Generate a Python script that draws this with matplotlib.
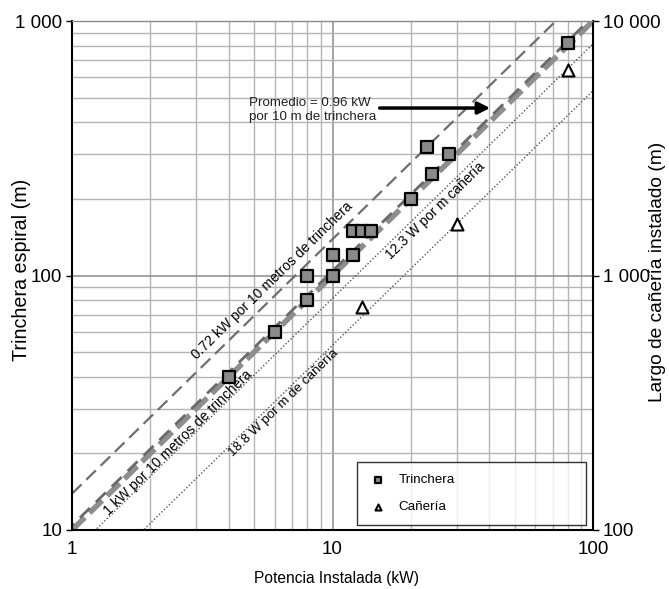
import numpy as np
import matplotlib
matplotlib.use("Agg")
import matplotlib.pyplot as plt
from matplotlib.ticker import FixedLocator, NullFormatter, LogLocator

plt.rcParams['font.family'] = ['Liberation Sans', 'DejaVu Sans']

# Trench field data: installed power (kW) vs spiral trench length (m)
trench_kw = [4, 6, 8, 8, 10, 10, 12, 12, 13, 14, 20, 23, 24, 28, 80]
trench_m = [40, 60, 80, 100, 100, 120, 120, 150, 150, 150, 200, 320, 250, 300, 820]

# Pipe data: installed power (kW) vs installed pipe length (m)
pipe_kw = [13, 30, 80]
pipe_m = [750, 1600, 6400]

# Reference rates
kw_per_10m_low = 0.72
kw_per_10m_avg = 0.96
kw_per_10m_ref = 1.0
w_per_m_pipe_a = 12.3
w_per_m_pipe_b = 18.8

x_ticks = [1, 10, 100]
x_tick_labels = ["1", "10", "100"]
y_ticks = [10, 100, 1000]
y_tick_labels = ["10", "100", "1 000"]
y2_ticks = [100, 1000, 10000]
y2_tick_labels = ["100", "1 000", "10 000"]

W, H = 669, 589
fig = plt.figure(figsize=(W / 100, H / 100), dpi=100)
ax = fig.add_axes([72 / W, 1 - 530 / H, 521 / W, 509 / H])
ax.set_xscale('log')
ax.set_yscale('log')
ax.set_xlim(1, 100)
ax.set_ylim(10, 1000)
renderer = fig.canvas.get_renderer()


def fitted_size(s, target_px, base=12.0):
    """Font size at which string s renders target_px wide."""
    t = fig.text(0, 0, s, fontsize=base)
    w = t.get_window_extent(renderer=renderer).width
    t.remove()
    return base * target_px / w


# grid
ax.xaxis.set_minor_locator(LogLocator(base=10, subs=np.arange(2, 10)))
ax.yaxis.set_minor_locator(LogLocator(base=10, subs=np.arange(2, 10)))
ax.grid(which='minor', color='#b4b4b4', lw=1.0)
ax.grid(which='major', color='#8a8a8a', lw=1.1)
ax.set_axisbelow(True)
ax.xaxis.set_minor_formatter(NullFormatter())
ax.yaxis.set_minor_formatter(NullFormatter())
ax.tick_params(which='minor', length=0)
ax.tick_params(which='major', length=4, width=1, labelsize=13.5, direction='out', pad=3)
ax.tick_params(axis='x', which='major', length=0, pad=8)
ax.xaxis.set_major_locator(FixedLocator(x_ticks))
ax.set_xticklabels(x_tick_labels)
ax.yaxis.set_major_locator(FixedLocator(y_ticks))
ax.set_yticklabels(y_tick_labels)

for s in ['left', 'bottom']:
    ax.spines[s].set_linewidth(1.5)
ax.spines['top'].set_color('#8a8a8a')
ax.spines['top'].set_linewidth(1.0)
ax.spines['right'].set_linewidth(1.5)

xs = np.array([1.0, 100.0])
# trench reference lines (m of trench = 10 m per rate kW)
ax.plot(xs, 10 * xs / kw_per_10m_low, color='#6e6e6e', lw=1.6,
        linestyle=(0, (6, 3)), zorder=2)
ax.plot(xs, 10 * xs / kw_per_10m_ref, color='#8e8e8e', lw=4.0,
        linestyle=(0, (3.2, 1.2)), zorder=2)
ax.plot(xs, 10 * xs / kw_per_10m_avg, color='#6a6a6a', lw=2.0,
        linestyle=(4, (5, 3)), zorder=2)
# pipe reference lines drawn on trench scale (pipe axis = 10x)
ax.plot(xs, xs * 1000 / w_per_m_pipe_a / 10, color='#555555', lw=1.0,
        linestyle=(0, (1, 1.5)), zorder=2)
ax.plot(xs, xs * 1000 / w_per_m_pipe_b / 10, color='#555555', lw=1.0,
        linestyle=(0, (1, 1.5)), zorder=2)

sq = ax.scatter(trench_kw, trench_m, marker='s', s=85, facecolor='#8a8a8a',
                edgecolor='black', linewidths=1.6, zorder=4)

# right axis: installed pipe length
ax2 = ax.twinx()
ax2.set_yscale('log')
ax2.set_ylim(100, 10000)
ax2.yaxis.set_major_locator(FixedLocator(y2_ticks))
ax2.set_yticklabels(y2_tick_labels)
ax2.yaxis.set_minor_formatter(NullFormatter())
ax2.tick_params(which='minor', length=0)
ax2.tick_params(which='major', length=4, width=1, labelsize=13.5, pad=3)
for s in ax2.spines.values():
    s.set_visible(False)
tr = ax2.scatter(pipe_kw, pipe_m, marker='^', s=75, facecolor='white',
                 edgecolor='black', linewidths=1.5, zorder=4)

xl = 'Potencia Instalada (kW)'
yl = 'Trinchera espiral (m)'
y2l = 'Largo de cañería instalado (m)'
ax.set_xlabel(xl, fontsize=fitted_size(xl, 166))
ax.set_ylabel(yl, fontsize=fitted_size(yl, 182))
ax2.set_ylabel(y2l, fontsize=fitted_size(y2l, 262))
ax.xaxis.set_label_coords((336 - 72) / 521, -(578 - 530) / 509)
ax.yaxis.set_label_coords((22 - 72) / 521, (530 - 270) / 509)
ax2.yaxis.set_label_coords((658 - 72) / 521, (530 - 272) / 509)
ax.xaxis.label.set_va('center')
ax.yaxis.label.set_va('center')
ax2.yaxis.label.set_va('center')

# rotation matching a unit slope on the log-log axes
p0 = ax.transData.transform((1, 10))
p1 = ax.transData.transform((100, 1000))
ang = np.degrees(np.arctan2(p1[1] - p0[1], p1[0] - p0[0]))

inv = ax.transData.inverted()


def line_label(s, cx, cy, length):
    x, y = inv.transform((cx, H - cy))
    ax.text(x, y, s, fontsize=fitted_size(s, length), rotation=ang,
            rotation_mode='anchor', ha='center', va='center', zorder=5)


line_label('0.72 kW por 10 metros de trinchera', 272, 281, 218)
line_label('1 kW por 10 metros de trinchera', 178, 443, 200)
line_label('18.8 W por m de cañería', 284, 403, 148)
line_label('12.3 W por m cañería', 435, 211, 132)

prom1 = 'Promedio = 0.96 kW'
prom2 = 'por 10 m de trinchera'
ax.text(4.78, 447, prom1 + '\n' + prom2, fontsize=fitted_size(prom2, 128),
        ha='left', va='center', linespacing=1.3, color='#222222', zorder=5)
ax.annotate('', xy=(41.3, 455), xytext=(14.8, 455),
            arrowprops=dict(arrowstyle='-|>', color='black', lw=2.5,
                            mutation_scale=18), zorder=5)

leg = ax.legend([sq, tr], ['Trinchera', 'Cañería'], loc='lower left',
                bbox_to_anchor=((357 - 72) / 521, 5 / 509, (586 - 357) / 521, 60 / 509),
                mode='expand', fontsize=fitted_size('Trinchera', 56),
                frameon=True, fancybox=False,
                edgecolor='black', markerscale=0.5, handlelength=1.3,
                handletextpad=0.9, borderpad=0.9, labelspacing=1.1, borderaxespad=0)
leg.get_frame().set_linewidth(1.0)
leg.set_zorder(6)

fig.savefig('out.png', dpi=100, facecolor='white')
